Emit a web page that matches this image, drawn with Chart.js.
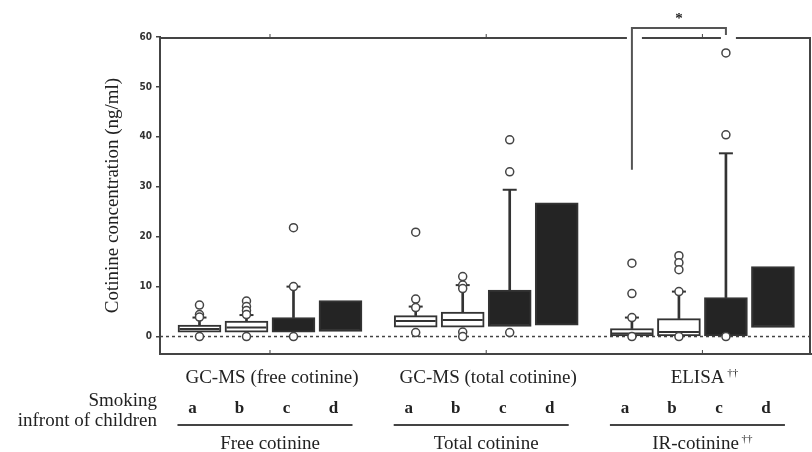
<!DOCTYPE html>
<html lang="en">
  <head>
    <meta charset="UTF-8" />
    <title>Cotinine concentration</title>
    <script src="https://cdn.jsdelivr.net/npm/chart.js"></script>
    <style>
      html,
      body {
        margin: 0;
        padding: 0;
        background: #ffffff;
      }
    </style>
  </head>
  <body>
    <canvas id="myChart" width="812" height="452"></canvas>
    <script>
      // label rows under the axis
      var methods = ["GC-MS (free cotinine)", "GC-MS (total cotinine)", "ELISA"];
      var analytes = ["Free cotinine", "Total cotinine", "IR-cotinine"];
      var daggers = [false, false, true];
      var exposure = ["a", "b", "c", "d"];
      var yTicks = [0, 10, 20, 30, 40, 50, 60];

      // box plots, a b c d for each method
      var q1 = [0.85, 0.85, 0.85, 1.0, 1.85, 1.85, 2.0, 2.3, 0.1, 0.1, 0.1, 1.8];
      var q3 = [2.3, 3.1, 3.8, 7.2, 4.2, 4.9, 9.3, 26.8, 1.6, 3.6, 7.8, 14.0];
      var medians = [1.5, 1.8, null, null, 3.1, 3.3, null, null, 0.6, 0.9, null, null];
      var whiskerTop = [3.8, 4.3, 10.0, null, 6.0, 10.3, 29.4, null, 3.8, 9.0, 36.7, null];
      var outliers = [
        [6.3, 4.4, 3.9, 0],
        [7.1, 6.0, 5.2, 4.4, 0],
        [21.8, 10.0, 0],
        [],
        [20.9, 7.5, 5.8, 0.8],
        [12.0, 10.3, 9.6, 0.9, 0],
        [39.4, 33.0, 0.8],
        [],
        [14.7, 8.6, 3.8, 0],
        [16.2, 14.8, 13.4, 9.0, 0],
        [56.8, 40.4, 0],
        [],
      ];

      // significance bracket (ELISA a vs ELISA c)
      var sigPair = [8, 10];
      var sigLegValue = 33.4;

      // position on the x scale: 4 boxes per method, small gap between methods
      function xOf(k) {
        return Math.floor(k / 4) * 4.6 + (k % 4);
      }
      var xMin = -0.84;
      var xMax = 13.01;

      var boxData = q1.map(function (v, k) {
        return { x: xOf(k), y: [q1[k], q3[k]] };
      });
      var boxColors = q1.map(function (v, k) {
        return k % 4 < 2 ? "#ffffff" : "#242424";
      });
      var whiskerData = [];
      var capData = [];
      whiskerTop.forEach(function (v, k) {
        if (v === null) return;
        whiskerData.push({ x: xOf(k), y: [q3[k], v] });
        capData.push({ x: xOf(k), y: v });
      });
      var medianData = [];
      medians.forEach(function (v, k) {
        if (v !== null) medianData.push({ x: xOf(k), y: v });
      });
      var outlierData = [];
      outliers.forEach(function (list, k) {
        list.forEach(function (v) {
          outlierData.push({ x: xOf(k), y: v });
        });
      });

      var serif = '"Liberation Serif", "Times New Roman", serif';
      var ink = "#222222";

      // frame, bracket and the label rows below the plot
      var decorations = {
        id: "decorations",
        afterDraw: function (chart) {
          var ctx = chart.ctx;
          var area = chart.chartArea;
          var xs = chart.scales.x;
          var ys = chart.scales.y;
          var L = xs.getPixelForValue(xOf(sigPair[0]));
          var R = xs.getPixelForValue(xOf(sigPair[1]));

          ctx.save();
          ctx.strokeStyle = "#444444";
          ctx.lineWidth = 2;
          ctx.beginPath();
          // right border
          ctx.moveTo(area.right - 1, area.top);
          ctx.lineTo(area.right - 1, area.bottom);
          // top border with gaps for the bracket
          var top = area.top + 1;
          ctx.moveTo(area.left, top);
          ctx.lineTo(L - 5, top);
          ctx.moveTo(L + 10, top);
          ctx.lineTo(R - 5, top);
          ctx.moveTo(R + 10, top);
          ctx.lineTo(area.right, top);
          ctx.stroke();

          // small tick marks at method centres
          ctx.lineWidth = 1;
          ctx.beginPath();
          for (var g = 0; g < methods.length; g++) {
            var gc = xs.getPixelForValue(g * 4.6 + 1.5);
            ctx.moveTo(gc, top - 1);
            ctx.lineTo(gc, top - 4);
            ctx.moveTo(gc, area.bottom - 1);
            ctx.lineTo(gc, area.bottom - 4);
          }
          ctx.stroke();

          // bracket
          ctx.lineWidth = 2;
          ctx.strokeStyle = "#555555";
          ctx.beginPath();
          ctx.moveTo(L, ys.getPixelForValue(sigLegValue));
          ctx.lineTo(L, area.top - 9);
          ctx.lineTo(R, area.top - 9);
          ctx.lineTo(R, area.top - 2);
          ctx.stroke();
          ctx.fillStyle = ink;
          ctx.font = "bold 15px " + serif;
          ctx.textAlign = "center";
          ctx.textBaseline = "alphabetic";
          ctx.fillText("*", (L + R) / 2, area.top - 14);

          // label rows
          ctx.font = "19px " + serif;
          ctx.textAlign = "right";
          ctx.fillText("Smoking", 157, 406);
          ctx.fillText("infront of children", 157, 426);

          for (var g2 = 0; g2 < methods.length; g2++) {
            var c = xs.getPixelForValue(g2 * 4.6 + 1.5);
            drawLabel(ctx, methods[g2], daggers[g2], c + 2, 383);
            drawLabel(ctx, analytes[g2], daggers[g2], c, 449);

            ctx.font = "bold 17px " + serif;
            ctx.textAlign = "center";
            for (var i = 0; i < exposure.length; i++) {
              var px = xs.getPixelForValue(xOf(g2 * 4 + i));
              ctx.fillText(exposure[i], px - 7, 413);
            }
            ctx.strokeStyle = "#444444";
            ctx.lineWidth = 2;
            ctx.beginPath();
            ctx.moveTo(xs.getPixelForValue(xOf(g2 * 4)) - 22, 425);
            ctx.lineTo(xs.getPixelForValue(xOf(g2 * 4 + 3)) + 12, 425);
            ctx.stroke();
          }
          ctx.restore();
        },
      };

      function drawLabel(ctx, text, dagger, cx, y) {
        ctx.font = "19px " + serif;
        var w = ctx.measureText(text).width;
        var dw = 0;
        if (dagger) {
          ctx.font = "11px " + serif;
          dw = ctx.measureText(" \u2020\u2020").width;
        }
        var x0 = cx - (w + dw) / 2;
        ctx.textAlign = "left";
        ctx.font = "19px " + serif;
        ctx.fillText(text, x0, y);
        if (dagger) {
          ctx.font = "11px " + serif;
          ctx.fillText(" \u2020\u2020", x0 + w, y - 7);
        }
      }

      var ctx = document.getElementById("myChart").getContext("2d");
      var myChart = new Chart(ctx, {
        type: "bar",
        data: {
          datasets: [
            {
              type: "scatter",
              data: outlierData,
              pointStyle: "circle",
              pointRadius: 4,
              backgroundColor: "#ffffff",
              borderColor: "#444444",
              borderWidth: 1.5,
              order: 0,
            },
            {
              type: "scatter",
              data: capData,
              pointStyle: "line",
              pointRadius: 7,
              borderColor: "#333333",
              borderWidth: 2,
              order: 1,
            },
            {
              type: "scatter",
              data: medianData,
              pointStyle: "line",
              pointRadius: 20,
              borderColor: "#333333",
              borderWidth: 2,
              order: 2,
            },
            {
              data: boxData,
              backgroundColor: boxColors,
              borderColor: "#333333",
              borderWidth: 2,
              borderSkipped: false,
              barThickness: 43,
              grouped: false,
              order: 3,
            },
            {
              data: whiskerData,
              backgroundColor: "#333333",
              borderWidth: 0,
              barThickness: 2,
              grouped: false,
              order: 4,
            },
            {
              type: "line",
              data: [
                { x: xMin, y: 0 },
                { x: xMax, y: 0 },
              ],
              borderColor: "#444444",
              borderWidth: 1.5,
              borderDash: [3, 3],
              pointRadius: 0,
              order: 5,
            },
          ],
        },
        options: {
          responsive: false,
          animation: false,
          events: [],
          layout: {
            autoPadding: false,
            padding: { top: 37, right: 1, left: 0, bottom: 0 },
          },
          plugins: {
            legend: { display: false },
            tooltip: { enabled: false },
          },
          scales: {
            x: {
              type: "linear",
              min: xMin,
              max: xMax,
              offset: false,
              grid: { display: false },
              ticks: { display: false },
              border: { display: true, color: "#444444", width: 2 },
              afterFit: function (scale) {
                scale.height = 98;
              },
            },
            y: {
              min: -3.5,
              max: 60,
              afterBuildTicks: function (scale) {
                scale.ticks = yTicks.map(function (v) {
                  return { value: v };
                });
              },
              ticks: {
                color: "#333333",
                padding: 4,
                font: {
                  family: '"DejaVu Sans Condensed", "Liberation Sans", sans-serif',
                  size: 10,
                  weight: "bold",
                },
              },
              grid: {
                display: true,
                drawOnChartArea: false,
                drawTicks: true,
                tickLength: 4,
                color: "#444444",
                lineWidth: 1.5,
              },
              border: { display: true, color: "#444444", width: 2 },
              title: {
                display: true,
                text: "Cotinine concentration (ng/ml)",
                color: ink,
                font: { family: serif, size: 19 },
                padding: { top: 102, bottom: 0 },
              },
              afterFit: function (scale) {
                scale.width = 160;
              },
            },
          },
        },
        plugins: [decorations],
      });
    </script>
  </body>
</html>
